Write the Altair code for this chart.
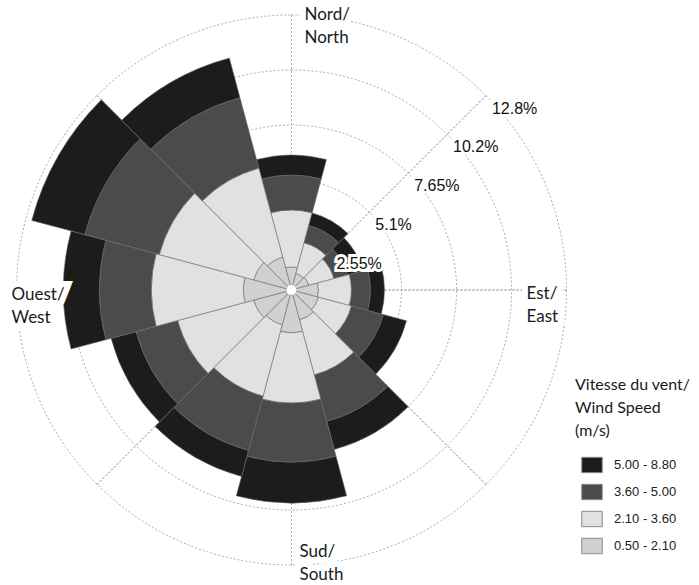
import altair as alt
import pandas as pd

# ---- data (percent frequency per direction sector and speed class) ----
directions = [0, 30, 60, 90, 120, 150, 180, 210, 240, 270, 300, 330]
speed_classes = ["0.50 - 2.10", "2.10 - 3.60", "3.60 - 5.00", "5.00 - 8.80"]
freq_050_210 = [1.07, 0.79, 0.83, 1.25, 1.30, 1.44, 1.99, 1.67, 1.81, 2.23, 1.81, 1.58]
freq_210_360 = [2.64, 1.48, 1.21, 1.53, 1.58, 2.64, 3.25, 3.43, 3.66, 4.27, 4.54, 4.27]
freq_360_500 = [1.62, 0.83, 0.65, 0.88, 1.53, 2.23, 2.74, 2.60, 1.99, 2.41, 3.57, 3.38]
freq_500_880 = [0.93, 0.60, 0.74, 0.65, 1.11, 1.34, 1.90, 1.25, 1.20, 1.67, 2.55, 1.90]
sector_width = 30

ring_values = [2.55, 5.1, 7.65, 10.2, 12.75]
ring_labels = ["2.55%", "5.1%", "7.65%", "10.2%", "12.8%"]
ring_label_angle = 45
spoke_angles = [0, 45, 90, 135, 180, 225, 270, 315]
hole_radius = [0.23]

compass_angles = [0, 90, 180, 270]
compass_labels = ["Nord/\nNorth", "Est/\nEast", "Sud/\nSouth", "Ouest/\nWest"]

legend_order = ["5.00 - 8.80", "3.60 - 5.00", "2.10 - 3.60", "0.50 - 2.10"]
legend_colors = ["#1c1c1c", "#4b4b4b", "#e1e1e1", "#d1d1d1"]

# ---- build tables ----
series = [freq_050_210, freq_210_360, freq_360_500, freq_500_880]
rows = []
for i, d in enumerate(directions):
    cum = 0.0
    for k, cls in enumerate(speed_classes):
        v = series[k][i]
        rows.append({"dir": d, "t0": d - sector_width / 2, "t1": d + sector_width / 2,
                     "r0": cum, "r1": cum + v, "speed": cls, "freq": v})
        cum += v
bars_df = pd.DataFrame(rows)
rings_df = pd.DataFrame({"r": ring_values, "label": ring_labels,
                         "a": [ring_label_angle] * len(ring_values)})
spokes_df = pd.DataFrame({"a": spoke_angles, "r": [max(ring_values)] * len(spoke_angles),
                          "r0": [0.0] * len(spoke_angles)})
hole_df = pd.DataFrame({"r": hole_radius})
compass_df = pd.DataFrame({"a": compass_angles, "label": compass_labels,
                           "r": [max(ring_values)] * len(compass_angles)})

theta_scale = alt.Scale(domain=[0, 360], range=[0, 6.283185307179586])
radius_scale = alt.Scale(type="linear", domain=[0, 12.75], range=[0, 275], zero=True)

grid_color = "#a8a8a8"

rings = alt.Chart(rings_df).mark_arc(fillOpacity=0, stroke=grid_color, strokeWidth=1,
                                     strokeDash=[2, 2]).encode(
    theta=alt.value(0), theta2=alt.value(6.283185307179586),
    radius=alt.Radius("r:Q", scale=radius_scale, stack=None))

spokes = alt.Chart(spokes_df).mark_arc(fillOpacity=0, stroke=grid_color, strokeWidth=1,
                                       strokeDash=[2, 2]).encode(
    theta=alt.Theta("a:Q", scale=theta_scale, stack=None), theta2="a:Q",
    radius=alt.Radius("r:Q", scale=radius_scale, stack=None), radius2="r0:Q")

bars = alt.Chart(bars_df).mark_arc(stroke="#6a6a6a", strokeWidth=0.6).encode(
    theta=alt.Theta("t0:Q", scale=theta_scale, stack=None), theta2="t1:Q",
    radius=alt.Radius("r1:Q", scale=radius_scale, stack=None), radius2="r0:Q",
    color=alt.Color("speed:N", scale=alt.Scale(domain=legend_order, range=legend_colors),
                    legend=alt.Legend(
                        title=["Vitesse du vent/", "Wind Speed", "(m/s)"],
                        orient="none", legendX=575, legendY=377, padding=0,
                        titleFont="Lato", titleFontSize=16, titleFontWeight="normal",
                        titleColor="#1a1a1a", titleLineHeight=23, titlePadding=15,
                        labelFont="Liberation Sans", labelFontSize=13, labelColor="#222222",
                        labelOffset=11,
                        symbolType="M-1,-0.75L1,-0.75L1,0.75L-1,0.75Z", symbolSize=420,
                        symbolStrokeColor="#8a8a8a", symbolStrokeWidth=1, symbolOpacity=1,
                        symbolOffset=6, rowPadding=6)))

hole = alt.Chart(hole_df).mark_arc(fill="white").encode(
    theta=alt.value(0), theta2=alt.value(6.283185307179586),
    radius=alt.Radius("r:Q", scale=radius_scale, stack=None))

ring_halo = alt.Chart(rings_df).mark_text(
    align="left", baseline="middle", dx=6, dy=13, font="Liberation Sans", fontSize=16,
    fill="white", stroke="white", strokeWidth=6, strokeJoin="miter").encode(
    theta=alt.Theta("a:Q", scale=theta_scale, stack=None),
    radius=alt.Radius("r:Q", scale=radius_scale, stack=None),
    text="label:N")
ring_text = alt.Chart(rings_df).mark_text(
    align="left", baseline="middle", dx=6, dy=13, font="Liberation Sans", fontSize=16,
    color="#111111").encode(
    theta=alt.Theta("a:Q", scale=theta_scale, stack=None),
    radius=alt.Radius("r:Q", scale=radius_scale, stack=None),
    text="label:N")

offsets = {0: (13, -8), 90: (-40, -4), 180: (8, -21), 270: (-5, -3)}
compass_layers = []
for ang, (ox, oy) in offsets.items():
    sub = compass_df[compass_df["a"] == ang]
    for halo in (True, False):
        kw = dict(align="left", baseline="top", dx=ox, dy=oy, font="Lato", fontSize=17,
                  lineBreak="\n", lineHeight=23)
        if halo:
            kw.update(fill="white", stroke="white", strokeWidth=12, strokeJoin="miter")
        else:
            kw.update(color="#1a1a1a")
        compass_layers.append(alt.Chart(sub).mark_text(**kw).encode(
            theta=alt.Theta("a:Q", scale=theta_scale, stack=None),
            radius=alt.Radius("r:Q", scale=radius_scale, stack=None),
            text="label:N"))

chart = alt.layer(rings, spokes, bars, hole, ring_halo, ring_text, *compass_layers).properties(
    width=583, height=580, autosize="none",
    padding={"left": 0, "top": 0, "right": 116, "bottom": 5},
    background="white"
).configure_view(stroke=None)

chart.save("out.html", embed_options={"renderer": "svg", "actions": False})
